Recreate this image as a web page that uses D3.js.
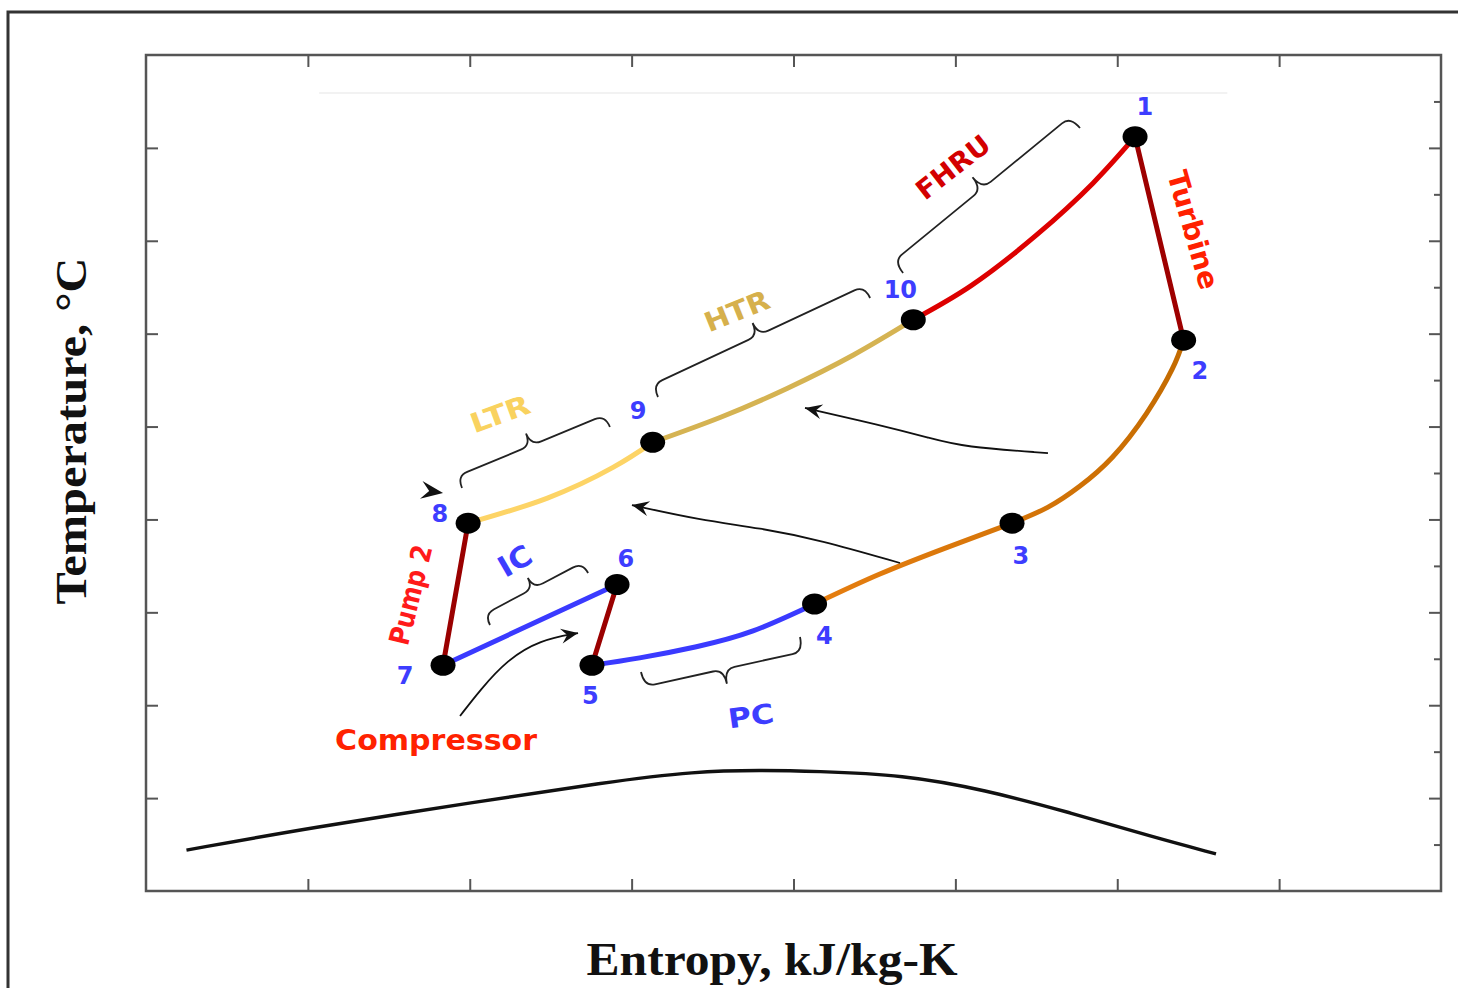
<!DOCTYPE html>
<html>
<head>
<meta charset="utf-8">
<script src="https://cdn.jsdelivr.net/npm/d3@7"></script>
<style>
  body { margin: 0; background: #fff; }
  svg { display: block; }
</style>
</head>
<body>
<div id="chart"></div>
<script>
// state points of the cycle (entropy / temperature, arbitrary units: no tick labels in the figure)
var stateIds = ["1", "2", "3", "4", "5", "6", "7", "8", "9", "10"];
var stateS = [6.11, 6.41, 5.35, 4.13, 2.755, 2.91, 1.835, 1.99, 3.13, 4.74];
var stateT = [8.12, 5.93, 3.96, 3.09, 2.43, 3.30, 2.43, 3.96, 4.83, 6.15];
// where each state number is written
var stateLabelS = [6.17, 6.51, 5.405, 4.19, 2.745, 2.965, 1.60, 1.816, 3.04, 4.66];
var stateLabelT = [8.44, 5.60, 3.61, 2.745, 2.10, 3.575, 2.315, 4.06, 5.17, 6.47];

// processes (points along each curve, ordered by entropy)
var procFHRU = [[4.74, 6.15], [5.10, 6.52], [5.50, 7.06], [5.85, 7.62], [6.11, 8.12]];
var procTurbine = [[6.11, 8.12], [6.41, 5.93]];
var proc23 = [[5.35, 3.96], [5.57, 4.13], [5.77, 4.36], [5.97, 4.67], [6.18, 5.14], [6.34, 5.62], [6.41, 5.93]];
var proc34 = [[4.13, 3.09], [4.53, 3.41], [4.95, 3.70], [5.35, 3.96]];
var procPC = [[2.755, 2.43], [3.05, 2.51], [3.40, 2.63], [3.75, 2.80], [4.13, 3.09]];
var procComp = [[2.755, 2.43], [2.91, 3.30]];
var procIC = [[1.835, 2.43], [2.91, 3.30]];
var procPump = [[1.835, 2.43], [1.99, 3.96]];
var procLTR = [[1.99, 3.96], [2.48, 4.23], [2.885, 4.56], [3.13, 4.83]];
var procHTR = [[3.13, 4.83], [3.55, 5.10], [3.96, 5.41], [4.37, 5.77], [4.74, 6.15]];

// saturation dome
var domeS = [0.25, 1.01, 2.05, 2.83, 3.40, 3.80, 4.13, 4.68, 5.18, 5.70, 6.22, 6.61];
var domeT = [0.44, 0.68, 0.96, 1.17, 1.29, 1.30, 1.29, 1.25, 1.09, 0.85, 0.58, 0.40];

// component labels
var compNames = ["FHRU", "HTR", "LTR", "IC", "Pump 2", "Turbine", "Compressor", "PC"];
var compS = [4.985, 3.651, 2.187, 2.280, 1.637, 6.468, 1.792, 3.737];
var compT = [7.794, 6.244, 5.135, 3.553, 3.187, 7.116, 1.626, 1.884];
var compAngle = [-38, -22, -20, -30, -76, 74, 0, -8];
var compLen = [86, 68, 62, 34, 102, 122, 202, 46];
var compSize = [27, 27, 27, 29, 28, 28, 29, 27];
var compColor = ["#d30000", "#d6b04c", "#f9d25f", "#3d3dff", "#ff1a1a", "#ff2000", "#ff2200", "#3d3dff"];

// braces: two ends, depth toward the label (sign = side)
var braceA = [[4.677, 6.653], [3.163, 5.318], [1.952, 4.338], [2.125, 2.864], [3.058, 2.358]];
var braceB = [[5.770, 8.214], [4.473, 6.384], [2.866, 4.995], [2.731, 3.423], [4.040, 2.734]];
var braceDepth = [-30, -27, -26, -24, 30];

// heat transfer arrows
var arrowPaths = [
  [[5.572, 4.715], [5.047, 4.780], [4.843, 4.877], [4.534, 5.017], [4.071, 5.200]],
  [[4.658, 3.531], [4.164, 3.779], [3.793, 3.908], [3.422, 3.994], [3.002, 4.155]],
  [[1.940, 1.884], [2.064, 2.164], [2.230, 2.487], [2.434, 2.702], [2.669, 2.777]]
];
var pointerS = 1.835, pointerT = 4.285;

var topGuide = [[1.07, 8.59], [6.68, 8.59]];

var xTicks = [1, 2, 3, 4, 5, 6, 7];
var yTicks = [1, 2, 3, 4, 5, 6, 7, 8];
var yMinor = [0.5, 1.5, 2.5, 3.5, 4.5, 5.5, 6.5, 7.5, 8.5];

var W = 1458, H = 988;
var svg = d3.select("#chart").append("svg").attr("width", W).attr("height", H);

var xScale = d3.scaleLinear().domain([0, 8]).range([146, 1441]);
var yScale = d3.scaleLinear().domain([0, 9]).range([891, 55]);

// outer figure border (cut by the page edges)
svg.append("path")
  .attr("d", "M8," + H + " L8,12 L" + W + ",12")
  .attr("fill", "none").attr("stroke", "#333").attr("stroke-width", 3);

var defs = svg.append("defs");
defs.append("marker")
  .attr("id", "head")
  .attr("viewBox", "-18 -9 20 18")
  .attr("refX", 0).attr("refY", 0)
  .attr("markerWidth", 20).attr("markerHeight", 18)
  .attr("markerUnits", "userSpaceOnUse")
  .attr("orient", "auto")
  .append("path")
  .attr("d", "M0,0 L-17,-7.5 L-11,0 L-17,7.5 Z")
  .attr("fill", "#111");

var grad = defs.append("linearGradient")
  .attr("id", "hotGrad")
  .attr("gradientUnits", "userSpaceOnUse")
  .attr("x1", xScale(6.41)).attr("y1", yScale(5.93))
  .attr("x2", xScale(4.13)).attr("y2", yScale(3.09));
grad.append("stop").attr("offset", "0%").attr("stop-color", "#c26a00");
grad.append("stop").attr("offset", "100%").attr("stop-color", "#e67e10");

// axes: ticks only, pointing inward
function tickStyle(g) {
  g.select(".domain").remove();
  g.selectAll(".tick line").attr("stroke", "#555").attr("stroke-width", 2);
}
svg.append("g").attr("transform", "translate(0," + yScale(0) + ")")
  .call(d3.axisBottom(xScale).tickValues(xTicks).tickSize(-12).tickFormat(""))
  .call(tickStyle);
svg.append("g").attr("transform", "translate(0," + yScale(9) + ")")
  .call(d3.axisTop(xScale).tickValues(xTicks).tickSize(-12).tickFormat(""))
  .call(tickStyle);
svg.append("g").attr("transform", "translate(" + xScale(0) + ",0)")
  .call(d3.axisLeft(yScale).tickValues(yTicks).tickSize(-12).tickFormat(""))
  .call(tickStyle);
svg.append("g").attr("transform", "translate(" + xScale(8) + ",0)")
  .call(d3.axisRight(yScale).tickValues(yTicks).tickSize(-12).tickFormat(""))
  .call(tickStyle);
svg.append("g").attr("transform", "translate(" + xScale(8) + ",0)")
  .call(d3.axisRight(yScale).tickValues(yMinor).tickSize(-7).tickFormat(""))
  .call(tickStyle);

svg.append("rect")
  .attr("x", xScale(0)).attr("y", yScale(9))
  .attr("width", xScale(8) - xScale(0)).attr("height", yScale(0) - yScale(9))
  .attr("fill", "none").attr("stroke", "#555").attr("stroke-width", 2.5);

var line = d3.line()
  .x(function(d) { return xScale(d[0]); })
  .y(function(d) { return yScale(d[1]); });
var curve = d3.line()
  .x(function(d) { return xScale(d[0]); })
  .y(function(d) { return yScale(d[1]); })
  .curve(d3.curveNatural);
var smooth = d3.line()
  .x(function(d) { return xScale(d[0]); })
  .y(function(d) { return yScale(d[1]); })
  .curve(d3.curveBasis);

svg.append("path").attr("d", line(topGuide))
  .attr("stroke", "#f2f2f2").attr("stroke-width", 2).attr("fill", "none");

// dome
var dome = domeS.map(function(s, i) { return [s, domeT[i]]; });
svg.append("path").attr("d", smooth(dome))
  .attr("fill", "none").attr("stroke", "#111").attr("stroke-width", 3.4);

// cycle lines
var procs = [
  { pts: procFHRU, color: "#dd0000", c: true },
  { pts: procTurbine, color: "#9e0000", c: false },
  { pts: proc23, color: "url(#hotGrad)", c: true },
  { pts: proc34, color: "url(#hotGrad)", c: true },
  { pts: procPC, color: "#3a3aff", c: true },
  { pts: procComp, color: "#9a0000", c: false },
  { pts: procIC, color: "#3a3aff", c: false },
  { pts: procPump, color: "#9a0000", c: false },
  { pts: procLTR, color: "#fdd466", c: true },
  { pts: procHTR, color: "#d5b352", c: true }
];
svg.selectAll(".proc").data(procs).enter().append("path")
  .attr("class", "proc")
  .attr("d", function(d) { return d.c ? curve(d.pts) : line(d.pts); })
  .attr("fill", "none")
  .attr("stroke", function(d) { return d.color; })
  .attr("stroke-width", 5)
  .attr("stroke-linecap", "round");

// curly brace: hooked ends, straight arms, pointed middle
function brace(x1, y1, x2, y2, depth) {
  var dx = x2 - x1, dy = y2 - y1;
  var len = Math.sqrt(dx * dx + dy * dy);
  var tx = dx / len, ty = dy / len;
  var nx = -ty, ny = tx;             // normal
  if (depth < 0) { nx = -nx; ny = -ny; depth = -depth; }
  var h = depth / 2, r = Math.min(11, len / 6);
  var mx = (x1 + x2) / 2, my = (y1 + y2) / 2;
  function p(x, y) { return x.toFixed(1) + "," + y.toFixed(1); }
  var tip = p(mx + nx * depth, my + ny * depth);
  var cm = p(mx + nx * h, my + ny * h);
  return "M" + p(x1, y1) +
    " Q" + p(x1 + nx * h, y1 + ny * h) + " " + p(x1 + nx * h + tx * r, y1 + ny * h + ty * r) +
    " L" + p(mx + nx * h - tx * r, my + ny * h - ty * r) +
    " Q" + cm + " " + tip +
    " M" + p(x2, y2) +
    " Q" + p(x2 + nx * h, y2 + ny * h) + " " + p(x2 + nx * h - tx * r, y2 + ny * h - ty * r) +
    " L" + p(mx + nx * h + tx * r, my + ny * h + ty * r) +
    " Q" + cm + " " + tip;
}
svg.selectAll(".brace").data(braceA).enter().append("path")
  .attr("class", "brace")
  .attr("d", function(d, i) {
    return brace(xScale(d[0]), yScale(d[1]), xScale(braceB[i][0]), yScale(braceB[i][1]), braceDepth[i]);
  })
  .attr("fill", "none").attr("stroke", "#222").attr("stroke-width", 1.8)
  .attr("stroke-linejoin", "round");

// arrows
svg.selectAll(".arrow").data(arrowPaths).enter().append("path")
  .attr("class", "arrow")
  .attr("d", function(d) { return smooth(d); })
  .attr("fill", "none").attr("stroke", "#111").attr("stroke-width", 1.8)
  .attr("marker-end", "url(#head)");
svg.append("path")
  .attr("transform", "translate(" + xScale(pointerS) + "," + yScale(pointerT) + ") rotate(8)")
  .attr("d", "M0,0 L-22,-9 L-14,0 L-22,9 Z")
  .attr("fill", "#111");

// state points
svg.selectAll(".state").data(stateS).enter().append("ellipse")
  .attr("class", "state")
  .attr("cx", function(d) { return xScale(d); })
  .attr("cy", function(d, i) { return yScale(stateT[i]); })
  .attr("rx", 12.5).attr("ry", 10.5)
  .attr("fill", "#000");

svg.selectAll(".stateLabel").data(stateIds).enter().append("text")
  .attr("class", "stateLabel")
  .attr("x", function(d, i) { return xScale(stateLabelS[i]); })
  .attr("y", function(d, i) { return yScale(stateLabelT[i]); })
  .attr("text-anchor", "middle")
  .attr("dominant-baseline", "central")
  .attr("font-family", "DejaVu Sans")
  .attr("font-weight", "bold")
  .attr("font-size", 24)
  .attr("fill", "#3d3dff")
  .text(function(d) { return d; });

svg.selectAll(".comp").data(compNames).enter().append("text")
  .attr("class", "comp")
  .attr("transform", function(d, i) {
    return "translate(" + xScale(compS[i]) + "," + yScale(compT[i]) + ") rotate(" + compAngle[i] + ")";
  })
  .attr("text-anchor", "middle")
  .attr("dominant-baseline", "central")
  .attr("font-family", "DejaVu Sans")
  .attr("font-weight", "bold")
  .attr("font-size", function(d, i) { return compSize[i]; })
  .attr("textLength", function(d, i) { return compLen[i]; })
  .attr("lengthAdjust", "spacingAndGlyphs")
  .attr("fill", function(d, i) { return compColor[i]; })
  .text(function(d) { return d; });

// axis titles
svg.append("text")
  .attr("transform", "translate(86,431) rotate(-90)")
  .attr("text-anchor", "middle")
  .attr("font-family", "Liberation Serif")
  .attr("font-weight", "bold")
  .attr("font-size", 45)
  .attr("textLength", 347)
  .attr("lengthAdjust", "spacingAndGlyphs")
  .attr("fill", "#111")
  .text("Temperature, °C");

svg.append("text")
  .attr("x", 772).attr("y", 975)
  .attr("text-anchor", "middle")
  .attr("font-family", "Liberation Serif")
  .attr("font-weight", "bold")
  .attr("font-size", 46)
  .attr("textLength", 371)
  .attr("lengthAdjust", "spacingAndGlyphs")
  .attr("fill", "#111")
  .text("Entropy, kJ/kg-K");
</script>
</body>
</html>
